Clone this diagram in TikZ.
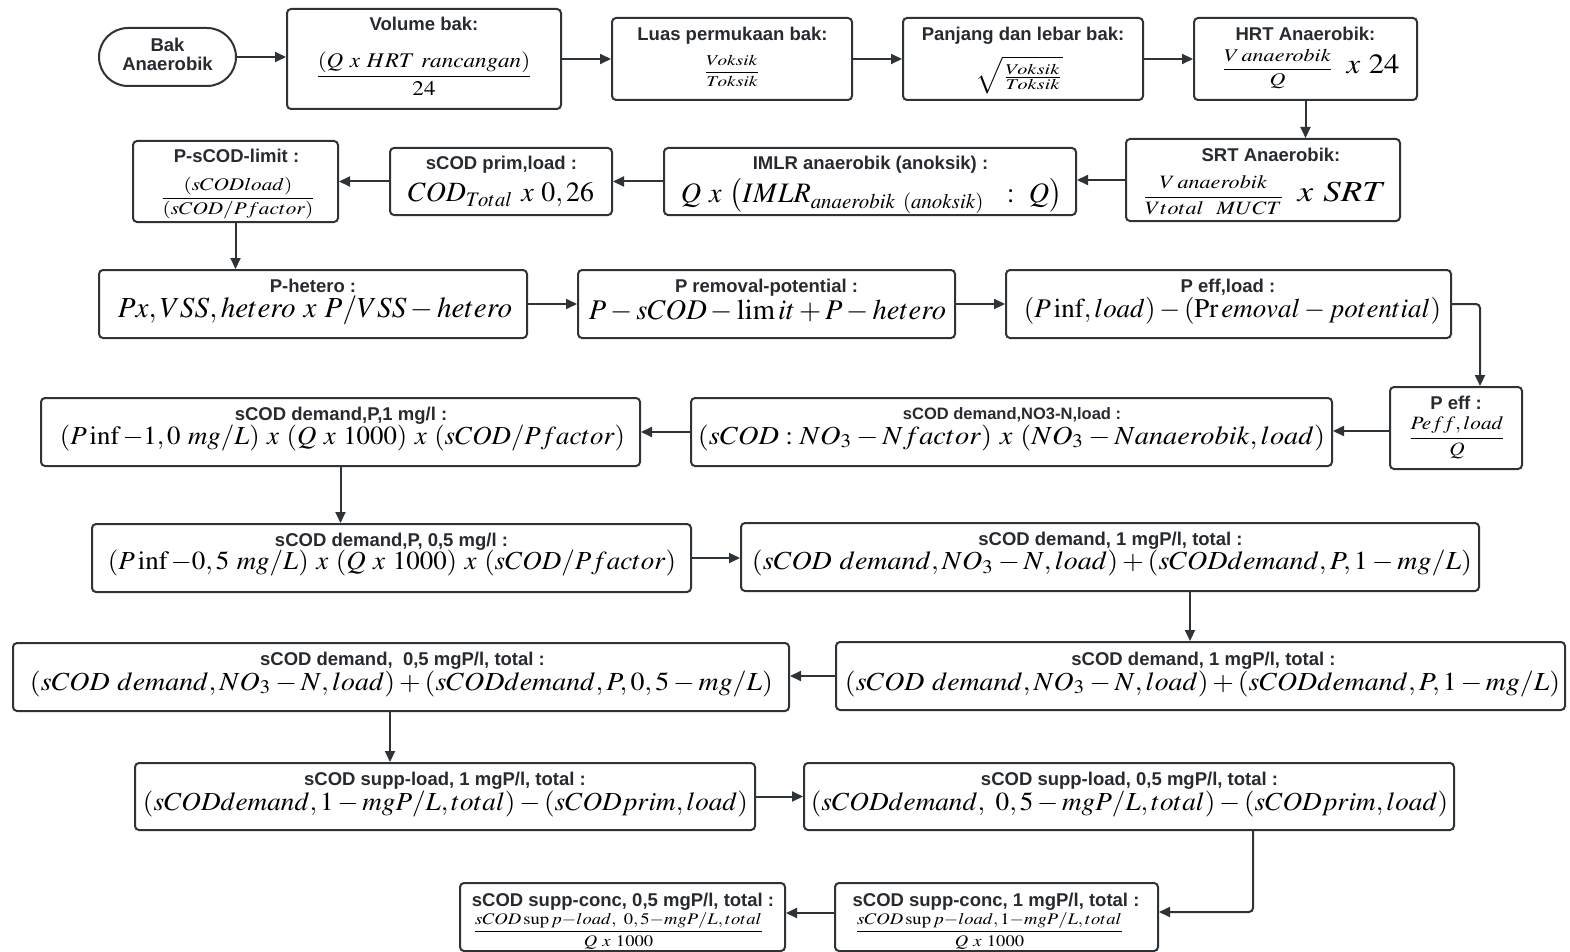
\documentclass[tikz,border=0pt]{standalone}
\usepackage{graphicx}
\usepackage{amsmath}
\usepackage{mathptmx}
\usepackage[no-math]{fontspec}
\setmainfont{Liberation Sans}
\usetikzlibrary{arrows.meta}
\definecolor{ink}{HTML}{2E3338}
% formula scaled to a given width (in pt)
\newcommand\fitm[2]{\resizebox{#1pt}{!}{$\displaystyle #2$}}
% formula scaled to a given width and total height (in pt)
\newcommand\fitmh[3]{\resizebox*{#1pt}{#2pt}{$\displaystyle #3$}}
\tikzset{
  bx/.style={draw=ink, line width=2pt, rounded corners=4pt, fill=white, inner sep=0pt},
  ttl/.style={anchor=base, inner sep=0pt, font=\bfseries\fontsize{18.5}{22}\selectfont, text=ink!85!black},
  ttls/.style={ttl, font=\bfseries\fontsize{16.5}{20}\selectfont},
  eq/.style={anchor=center, inner sep=0pt, text=black},
  link/.style={draw=ink, line width=2pt, -{Triangle[length=11pt,width=10pt]}}
}
\begin{document}
\begin{tikzpicture}[x=1pt,y=-1pt]
\useasboundingbox[fill=white] (0,0) rectangle (1570,952);

% ---- row 1
\node[bx, rounded corners=29pt, minimum width=137pt, minimum height=58pt] (bak) at (167.5,57) {};
\node[ttl] (bak-a) at (167.5,52) {Bak};
\node[ttl] (bak-b) at (167.5,71) {Anaerobik};

\node[bx, minimum width=274pt, minimum height=100pt] (vol) at (424,59) {};
\node[ttl] (vol-t) at (424,31) {Volume bak:};
\node[eq] (vol-f) at (424,74) {\fitmh{218}{44}{\frac{(Q\ x\ HRT\ rancangan)}{24}}};

\node[bx, minimum width=240pt, minimum height=82pt] (luas) at (732,59) {};
\node[ttl] (luas-t) at (732.5,41) {Luas permukaan bak:};
\node[eq] (luas-f) at (732,71) {\fitmh{56}{31}{\frac{Voksik}{Toksik}}};

\node[bx, minimum width=240pt, minimum height=82pt] (pan) at (1023,59) {};
\node[ttl] (pan-t) at (1023,41) {Panjang dan lebar bak:};
\node[eq] (pan-f) at (1019,75) {\fitmh{88}{37}{\sqrt{\tfrac{Voksik}{Toksik}}}};

\node[bx, minimum width=223pt, minimum height=82pt] (hrt) at (1305.5,59) {};
\node[ttl] (hrt-t) at (1305.5,41) {HRT Anaerobik:};
\node[eq] (hrt-f) at (1310.5,69) {\fitmh{112}{40}{\frac{V\,anaerobik}{Q}}\hspace{13pt}\fitmh{53}{19}{x\ 24}};

% ---- row 2
\node[bx, minimum width=205pt, minimum height=81pt] (psc) at (235.5,181.5) {};
\node[ttl] (psc-t) at (236.5,163) {P-sCOD-limit :};
\node[eq] (psc-f) at (238,198) {\fitmh{156}{42}{\frac{(sCODload)}{(sCOD/Pfactor)}}};

\node[bx, minimum width=222pt, minimum height=67pt] (prim) at (501,181.5) {};
\node[ttl] (prim-t) at (501.5,170) {sCOD prim,load :};
\node[eq] (prim-f) at (501,195) {\fitm{186}{COD_{Total}\ x\ 0,26}};

\node[bx, minimum width=412pt, minimum height=67pt] (imlr) at (870,181.5) {};
\node[ttl] (imlr-t) at (870.5,170) {IMLR anaerobik (anoksik) :};
\node[eq] (imlr-f) at (871.5,196) {\fitm{381}{Q\ x\ \big(IMLR_{anaerobik\ (anoksik)}\ \ :\ Q\big)}};

\node[bx, minimum width=274pt, minimum height=82pt] (srt) at (1263,180) {};
\node[ttl] (srt-t) at (1271,162) {SRT Anaerobik:};
\node[eq] (srt-f) at (1264.5,195.5) {\fitmh{142}{39}{\frac{V\,anaerobik}{Vtotal\ \ MUCT}}\hspace{13pt}\fitmh{89}{20}{x\ SRT}};

% ---- row 3
\node[bx, minimum width=428pt, minimum height=68pt] (phet) at (313,304) {};
\node[ttl] (phet-t) at (313,292) {P-hetero :};
\node[eq] (phet-f) at (315,310) {\fitm{394}{Px, VSS, hetero\ x\ P/VSS - hetero}};

\node[bx, minimum width=377pt, minimum height=68pt] (prem) at (766.5,304) {};
\node[ttl] (prem-t) at (766.5,292) {P removal-potential :};
\node[eq] (prem-f) at (767.5,311) {\fitm{357}{P - sCOD - \lim it + P - hetero}};

\node[bx, minimum width=445pt, minimum height=68pt] (peffl) at (1228.5,304) {};
\node[ttl] (peffl-t) at (1228,292) {P eff,load :};
\node[eq] (peffl-f) at (1232.5,311) {\fitm{417}{(P\inf, load) - (\Pr emoval - potential)}};

% ---- row 4
\node[bx, minimum width=132pt, minimum height=82pt] (peff) at (1456,428) {};
\node[ttl] (peff-t) at (1456,409) {P eff :};
\node[eq] (peff-f) at (1457,438) {\fitmh{98}{42}{\frac{Peff,load}{Q}}};

\node[bx, minimum width=641pt, minimum height=68pt] (no3) at (1011.5,432) {};
\node[ttls] (no3-t) at (1012,419) {sCOD demand,NO3-N,load :};
\node[eq] (no3-f) at (1011.5,437.5) {\fitmh{627}{26}{(sCOD : NO_3 - Nfactor)\ x\ (NO_3 - Nanaerobik, load)}};

\node[bx, minimum width=599pt, minimum height=68pt] (p1) at (340.5,432) {};
\node[ttl] (p1-t) at (341,420) {sCOD demand,P,1 mg/l :};
\node[eq] (p1-f) at (342.5,437.5) {\fitmh{565}{26}{(P\inf -1,0\ mg/L)\ x\ (Q\ x\ 1000)\ x\ (sCOD/Pfactor)}};

% ---- row 5
\node[bx, minimum width=599pt, minimum height=68pt] (p05) at (391.5,558) {};
\node[ttl] (p05-t) at (391.5,546) {sCOD demand,P, 0,5 mg/l :};
\node[eq] (p05-f) at (392,563) {\fitmh{568}{26}{(P\inf -0,5\ mg/L)\ x\ (Q\ x\ 1000)\ x\ (sCOD/Pfactor)}};

\node[bx, minimum width=738pt, minimum height=68pt] (tot1) at (1110,557) {};
\node[ttl] (tot1-t) at (1110.5,545) {sCOD demand, 1 mgP/l, total :};
\node[eq] (tot1-f) at (1112,563) {\fitmh{720}{26}{(sCOD\ demand, NO_3 - N, load) + (sCODdemand, P, 1 - mg/L)}};

% ---- row 6
\node[bx, minimum width=729pt, minimum height=68pt] (tot1b) at (1200.5,676) {};
\node[ttl] (tot1b-t) at (1203.5,665) {sCOD demand, 1 mgP/l, total :};
\node[eq] (tot1b-f) at (1202.5,683.5) {\fitmh{715}{26}{(sCOD\ demand, NO_3 - N, load) + (sCODdemand, P, 1 - mg/L)}};

\node[bx, minimum width=776pt, minimum height=68pt] (tot05) at (401,677) {};
\node[ttl] (tot05-t) at (402.5,665) {sCOD demand,~ 0,5 mgP/l, total :};
\node[eq] (tot05-f) at (401.5,683.5) {\fitmh{743}{26}{(sCOD\ demand, NO_3 - N, load) + (sCODdemand, P, 0,5 - mg/L)}};

% ---- row 7
\node[bx, minimum width=620pt, minimum height=67pt] (sl1) at (445,796.5) {};
\node[ttl] (sl1-t) at (445,785) {sCOD supp-load, 1 mgP/l, total :};
\node[eq] (sl1-f) at (445.5,804) {\fitmh{605}{26}{(sCODdemand, 1 - mgP/L, total) - (sCODprim, load)}};

\node[bx, minimum width=650pt, minimum height=67pt] (sl05) at (1129,796.5) {};
\node[ttl] (sl05-t) at (1129.5,785) {sCOD supp-load, 0,5 mgP/l, total :};
\node[eq] (sl05-f) at (1129.5,804) {\fitmh{637}{26}{(sCODdemand,\ 0,5 - mgP/L, total) - (sCODprim, load)}};

% ---- row 8
\node[bx, minimum width=323pt, minimum height=68pt] (sc1) at (996.5,917) {};
\node[ttl] (sc1-t) at (996,906) {sCOD supp-conc, 1 mgP/l, total :};
\node[eq] (sc1-f) at (989.5,931) {\fitmh{269}{37}{\frac{sCOD\sup p{-}load,1{-}mgP/L,total}{Q\ x\ 1000}}};

\node[bx, minimum width=325pt, minimum height=68pt] (sc05) at (622.5,917) {};
\node[ttl] (sc05-t) at (623,906) {sCOD supp-conc, 0,5 mgP/l, total :};
\node[eq] (sc05-f) at (618.5,931) {\fitmh{291}{37}{\frac{sCOD\sup p{-}load,\ 0,5{-}mgP/L,total}{Q\ x\ 1000}}};

% ---- connectors
\draw[link] (bak.east) -- (bak.east -| vol.west);
\draw[link] (vol.east) -- (luas.west);
\draw[link] (luas.east) -- (pan.west);
\draw[link] (pan.east) -- (hrt.west);
\draw[link] (hrt.south) -- (hrt.south |- srt.north);
\draw[link] (srt.west) -- (srt.west -| imlr.east);
\draw[link] (imlr.west) -- (prim.east);
\draw[link] (prim.west) -- (psc.east);
\draw[link] (psc.south) -- (psc.south |- phet.north);
\draw[link] (phet.east) -- (prem.west);
\draw[link] (prem.east) -- (peffl.west);
\draw[link, rounded corners=4pt] (peffl.east) -| ([xshift=24pt]peff.north);
\draw[link] ([yshift=-3pt]peff.west) -- ([yshift=-3pt]peff.west -| no3.east);
\draw[link] (no3.west) -- (p1.east);
\draw[link] (p1.south) -- (p1.south |- p05.north);
\draw[link] (p05.east) -- (p05.east -| tot1.west);
\draw[link] ([xshift=80pt]tot1.south) -- ([xshift=80pt]tot1.south |- tot1b.north);
\draw[link] (tot1b.west) -- (tot1b.west -| tot05.east);
\draw[link] ([xshift=-11pt]tot05.south) -- ([xshift=-11pt]tot05.south |- sl1.north);
\draw[link] (sl1.east) -- (sl1.east -| sl05.west);
\draw[link, rounded corners=4pt] ([xshift=124pt]sl05.south) |- ([yshift=5pt]sc1.east);
\draw[link] ([yshift=4pt]sc1.west) -- ([yshift=4pt]sc1.west -| sc05.east);
\end{tikzpicture}
\end{document}
